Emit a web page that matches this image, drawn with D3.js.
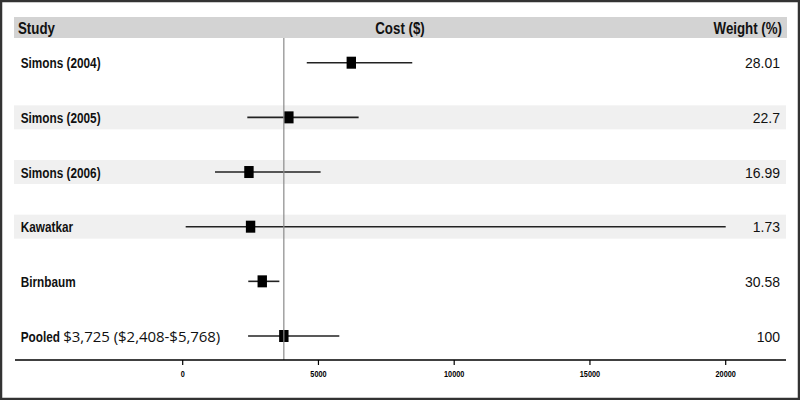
<!DOCTYPE html>
<html>
<head>
<meta charset="utf-8">
<script src="https://cdn.jsdelivr.net/npm/d3@7"></script>
<style>
  body { margin: 0; background: #fff; }
  svg { display: block; }
</style>
</head>
<body>
<div id="main_div"></div>
<script>
var WIDTH = 800;
var HEIGHT = 400;

// data
var studies = ["Simons (2004)", "Simons (2005)", "Simons (2006)", "Kawatkar", "Birnbaum", "Pooled"];
var estimates = [6210, 3910, 2440, 2500, 2930, 3725];
var lowerCI = [4570, 2380, 1190, 110, 2415, 2408];
var upperCI = [8455, 6480, 5080, 20000, 3560, 5768];
var weights = ["28.01", "22.7", "16.99", "1.73", "30.58", "100"];
var shadedRows = ["Simons (2005)", "Simons (2006)", "Kawatkar"];
var tickValues = [0, 5000, 10000, 15000, 20000];
var pooledText = "$3,725 ($2,408-$5,768)";
var pooledValue = 3725;

var rows = studies.map(function(s, i) {
  return { study: s, est: estimates[i], lo: lowerCI[i], hi: upperCI[i], weight: weights[i] };
});

var svg = d3.select("#main_div").append("svg")
  .attr("width", WIDTH)
  .attr("height", HEIGHT);

var x = d3.scaleLinear().domain([0, 20000]).range([182.7, 725.7]);
var y = d3.scalePoint().domain(studies).range([62.7, 336]);

var LEFT = 14, RIGHT = 786;
var SY = 1.27; // text looks stretched vertically

function stretched(sel, tx, ty, sy) {
  return sel.attr("transform", "translate(" + tx + "," + ty + ") scale(1," + sy + ")");
}

// shaded row bands
svg.selectAll("rect.band")
  .data(rows.filter(function(d) { return shadedRows.indexOf(d.study) >= 0; }))
  .enter().append("rect")
    .attr("class", "band")
    .attr("x", LEFT)
    .attr("width", RIGHT - LEFT)
    .attr("y", function(d) { return y(d.study) - 12; })
    .attr("height", 24)
    .style("fill", "#f0f0f0");

// header band
svg.append("rect")
  .attr("x", LEFT).attr("y", 17)
  .attr("width", RIGHT - LEFT + 1).attr("height", 21)
  .style("fill", "#d3d3d3");

var headFont = "'Liberation Sans', Arial, sans-serif";
[["Study", 18, "start"], ["Cost ($)", 400, "middle"], ["Weight (%)", 782, "end"]].forEach(function(h) {
  stretched(svg.append("text"), h[1], 34, 1.22)
    .attr("text-anchor", h[2])
    .style("font-family", headFont)
    .style("font-weight", "bold")
    .style("font-size", "13.3px")
    .style("fill", "#111")
    .text(h[0]);
});

// whiskers
svg.selectAll("line.ci")
  .data(rows).enter().append("line")
    .attr("class", "ci")
    .attr("x1", function(d) { return x(d.lo); })
    .attr("x2", function(d) { return x(d.hi); })
    .attr("y1", function(d) { return y(d.study); })
    .attr("y2", function(d) { return y(d.study); })
    .style("stroke", "#222")
    .style("stroke-width", 1.6);

// point estimates
svg.selectAll("rect.pt")
  .data(rows).enter().append("rect")
    .attr("class", "pt")
    .attr("x", function(d) { return x(d.est) - 4.7; })
    .attr("y", function(d) { return y(d.study) - 6; })
    .attr("width", 9.4)
    .attr("height", 12)
    .style("fill", "#000");

// reference line at pooled estimate
svg.append("line")
  .attr("x1", x(pooledValue)).attr("x2", x(pooledValue))
  .attr("y1", 38).attr("y2", 360)
  .style("stroke", "#8a8a8a")
  .style("stroke-width", 1.2);

// study labels and weights
rows.forEach(function(d) {
  stretched(svg.append("text"), 20.7, y(d.study) + 5.5, SY)
    .style("font-family", headFont)
    .style("font-weight", "bold")
    .style("font-size", "11.8px")
    .style("fill", "#111")
    .text(d.study);

  stretched(svg.append("text"), 780, y(d.study) + 5.5, 1.1)
    .attr("text-anchor", "end")
    .style("font-family", headFont)
    .style("font-size", "14px")
    .style("fill", "#111")
    .text(d.weight);
});

svg.append("text")
  .attr("x", 63.3)
  .attr("y", y("Pooled") + 5.5)
  .style("font-family", "'Open Sans', sans-serif")
  .style("font-size", "15px")
  .style("fill", "#111")
  .attr("textLength", 157)
  .text(pooledText);

// axis
var axis = svg.append("g").attr("transform", "translate(0,360)");
axis.append("line")
  .attr("x1", LEFT + 1).attr("x2", RIGHT)
  .style("stroke", "#000").style("stroke-width", 1.6);
axis.selectAll("line.tick")
  .data(tickValues).enter().append("line")
    .attr("class", "tick")
    .attr("x1", function(d) { return x(d); })
    .attr("x2", function(d) { return x(d); })
    .attr("y1", 0).attr("y2", 5)
    .style("stroke", "#000").style("stroke-width", 1.2);
axis.selectAll("text.tick")
  .data(tickValues).enter().append("text")
    .attr("class", "tick")
    .attr("text-anchor", "middle")
    .attr("transform", function(d) { return "translate(" + x(d) + ",17) scale(1,1.35)"; })
    .style("font-family", headFont)
    .style("font-weight", "bold")
    .style("font-size", "7.3px")
    .style("fill", "#000")
    .text(function(d) { return d; });

// outer frame
svg.append("rect")
  .attr("x", 1).attr("y", 1)
  .attr("width", WIDTH - 2).attr("height", HEIGHT - 2)
  .style("fill", "none")
  .style("stroke", "#333")
  .style("stroke-width", 2.5);
</script>
</body>
</html>
